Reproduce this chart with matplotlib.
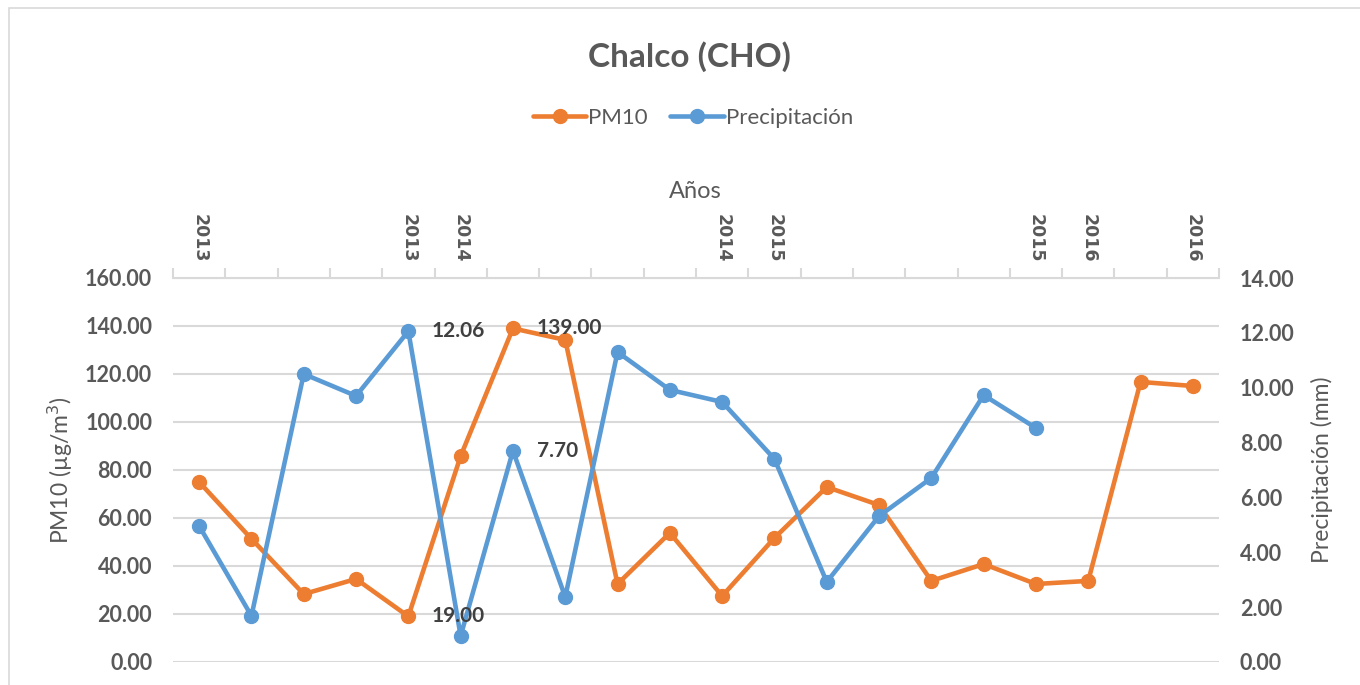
import matplotlib.pyplot as plt
from matplotlib.patches import Rectangle
import numpy as np

plt.rcParams['font.family'] = ['Lato', 'DejaVu Sans']

# category labels along the top axis (empty = no label shown)
year_labels = ['2013', '', '', '', '2013', '2014', '', '', '', '', '2014',
               '2015', '', '', '', '', '2015', '2016', '', '2016']

pm10 = [75.0, 51.3, 28.3, 34.6, 19.0, 85.8, 139.0, 134.2, 32.5, 53.8,
        27.5, 51.7, 72.9, 65.4, 33.8, 40.8, 32.5, 33.8, 116.7, 115.0]

precip = [4.96, 1.68, 10.5, 9.70, 12.06, 0.95, 7.70, 2.37, 11.3, 9.92,
          9.48, 7.40, 2.92, 5.32, 6.71, 9.73, 8.53]

orange = '#ED7D31'
blue = '#5B9BD5'
grey = '#595959'
gridc = '#D9D9D9'

fig = plt.figure(figsize=(13.6, 6.85), dpi=100)
ax = fig.add_axes([173 / 1360, 1 - 662 / 685, 1046 / 1360, 384 / 685])
ax2 = ax.twinx()

x = np.arange(len(pm10))
xp = np.arange(len(precip))

l1, = ax.plot(x, pm10, color=orange, lw=3.3, marker='o', ms=10,
              solid_capstyle='round', label='PM10')
l2, = ax2.plot(xp, precip, color=blue, lw=3.3, marker='o', ms=10,
               solid_capstyle='round', label='Precipitación')

ax.set_xlim(-0.5, len(pm10) - 0.5)
ax.set_ylim(0, 160)
ax2.set_ylim(0, 14)
ax.set_yticks(np.arange(0, 161, 20))
ax2.set_yticks(np.arange(0, 15, 2))
ax.set_yticklabels([f'{v:.2f}' for v in np.arange(0, 161, 20)])
ax2.set_yticklabels([f'{v:.2f}' for v in np.arange(0, 15, 2)])

ax.yaxis.grid(True, color=gridc, lw=1.5)
ax.set_axisbelow(True)

for a in (ax, ax2):
    for s in a.spines.values():
        s.set_visible(False)
ax.spines['top'].set_visible(True)
ax.spines['top'].set_color(gridc)
ax.spines['top'].set_linewidth(1.5)

ax.tick_params(axis='y', length=0, pad=15, labelsize=15.5, labelcolor=grey)
ax2.tick_params(axis='y', length=0, pad=15, labelsize=15.5, labelcolor=grey)
for t in ax.get_yticklabels() + ax2.get_yticklabels():
    t.set_fontweight('bold')

# top category axis
ax.xaxis.tick_top()
ax.set_xticks(x)
ax.set_xticks(np.arange(-0.5, len(pm10), 1), minor=True)
ax.tick_params(axis='x', which='major', length=0, pad=11)
ax.tick_params(axis='x', which='minor', length=7, width=1.5, color=gridc,
               direction='out')
ax.set_xticklabels(year_labels, rotation=270, fontsize=12.5,
                   fontweight='bold', family='DejaVu Sans', color=grey)

# data labels, drawn above both lines
lab = dict(fontsize=15, fontweight='bold', color='#404040', va='center',
           ha='left', textcoords='offset points', zorder=10)
ax2.annotate(f'{precip[4]:.2f}', (4, precip[4]), xytext=(17, 0), **lab)
ax2.annotate(f'{pm10[6]:.2f}', (6, pm10[6]), xycoords=ax.transData,
             xytext=(17, 0), **lab)
ax2.annotate(f'{precip[6]:.2f}', (6, precip[6]), xytext=(17, 0), **lab)
ax2.annotate(f'{pm10[4]:.2f}', (4, pm10[4]), xycoords=ax.transData,
             xytext=(17, 0), **lab)

fig.text(689 / 1360, 1 - 57 / 685, 'Chalco (CHO)', ha='center', va='center',
         fontsize=24, fontweight='bold', color=grey)
fig.text(695 / 1360, 1 - 192 / 685, 'Años', ha='center', va='center',
         fontsize=17, color=grey)
fig.text(60 / 1360, 1 - 470 / 685, 'PM10 (µg/m$^3$)', rotation=90,
         ha='center', va='center', fontsize=16.5, color=grey)
fig.text(1322 / 1360, 1 - 470 / 685, 'Precipitación (mm)', rotation=90,
         ha='center', va='center', fontsize=16.5, color=grey)

fig.legend(handles=[l1, l2], loc='center', ncol=2, frameon=False,
           bbox_to_anchor=(693 / 1360, 1 - 118 / 685), fontsize=16,
           labelcolor=grey, handlelength=2.4, columnspacing=1.0,
           handletextpad=0.1)

fig.patches.append(Rectangle((9 / 1360, -0.1), 1.2, 1 - 8 / 685 + 0.1,
                             transform=fig.transFigure, fill=False,
                             edgecolor=gridc, lw=1.2))

fig.savefig('out.png', dpi=100, facecolor='white')
